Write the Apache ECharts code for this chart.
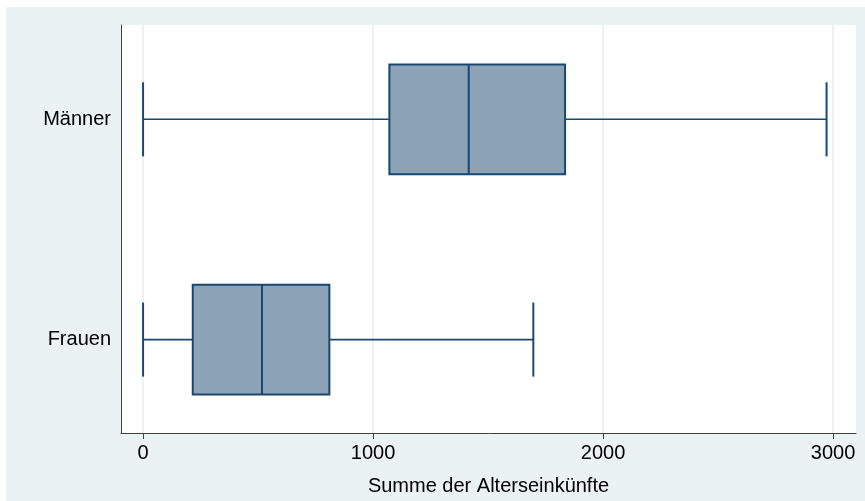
<!DOCTYPE html>
<html>
<head>
<meta charset="utf-8">
<script src="https://cdn.jsdelivr.net/npm/echarts@6/dist/echarts.min.js"></script>
<style>
  html, body { margin: 0; padding: 0; background: #ffffff; }
  #container { position: absolute; left: 6px; top: 7px; width: 859px; height: 494px; }
</style>
</head>
<body>
<div id="container"></div>
<script>
// box plot values per group (Stata-style horizontal boxplot)
var groups = ['Männer', 'Frauen'];
var lowerWhisker = [0, 0];
var q1 = [1071, 216];
var median = [1416, 517];
var q3 = [1835, 810];
var upperWhisker = [2972, 1697];
var xTicks = [0, 1000, 2000, 3000];
var xTitle = 'Summe der Alterseinkünfte';

var dom = document.getElementById('container');
var myChart = echarts.init(dom, null, { renderer: 'canvas' });

var navy = '#1a476f';
var boxFill = '#8ca3b7';
var BOX_HALF = 0.249;  // half box height in y units
var CAP_HALF = 0.168;  // half cap height in y units

var seriesData = groups.map(function (g, i) {
    return [i + 1, lowerWhisker[i], q1[i], median[i], q3[i], upperWhisker[i]];
});

function renderBox(params, api) {
    var y = api.value(0);
    var lo = api.coord([api.value(1), y]);
    var b1 = api.coord([api.value(2), y]);
    var md = api.coord([api.value(3), y]);
    var b3 = api.coord([api.value(4), y]);
    var hi = api.coord([api.value(5), y]);
    var boxTop = api.coord([0, y - BOX_HALF])[1];
    var boxBot = api.coord([0, y + BOX_HALF])[1];
    var capTop = api.coord([0, y - CAP_HALF])[1];
    var capBot = api.coord([0, y + CAP_HALF])[1];
    var cy = lo[1];
    var line = { stroke: navy, lineWidth: 1.6 };
    var thick = { stroke: navy, lineWidth: 2 };
    return {
        type: 'group',
        children: [
            { type: 'line', shape: { x1: lo[0], y1: cy, x2: b1[0], y2: cy }, style: line },
            { type: 'line', shape: { x1: b3[0], y1: cy, x2: hi[0], y2: cy }, style: line },
            { type: 'line', shape: { x1: lo[0], y1: capTop, x2: lo[0], y2: capBot }, style: thick },
            { type: 'line', shape: { x1: hi[0], y1: capTop, x2: hi[0], y2: capBot }, style: thick },
            {
                type: 'rect',
                shape: { x: b1[0], y: boxTop, width: b3[0] - b1[0], height: boxBot - boxTop },
                style: { fill: boxFill, stroke: navy, lineWidth: 2 }
            },
            { type: 'line', shape: { x1: md[0], y1: boxTop, x2: md[0], y2: boxBot }, style: thick }
        ]
    };
}

var labelFont = 'Liberation Sans, Arial, sans-serif';

var option = {
    backgroundColor: '#eaf2f3',
    animation: false,
    grid: {
        left: 115,
        right: 9,
        top: 18,
        bottom: 63,
        show: true,
        backgroundColor: '#ffffff',
        borderWidth: 0
    },
    xAxis: {
        type: 'value',
        min: -96,
        max: 3100,
        name: xTitle,
        nameLocation: 'middle',
        nameGap: 43,
        nameTextStyle: { fontFamily: labelFont, fontSize: 20, color: '#000' },
        axisLine: { show: true, onZero: false, lineStyle: { color: '#404040', width: 1 } },
        axisTick: { show: true, length: 6, customValues: xTicks, lineStyle: { color: '#404040' } },
        axisLabel: {
            customValues: xTicks,
            margin: 10,
            fontFamily: labelFont,
            fontSize: 20,
            color: '#000',
            formatter: function (v) { return String(v); }
        },
        splitLine: { show: true, lineStyle: { color: '#eaf2f3', width: 2 } }
    },
    yAxis: {
        type: 'value',
        inverse: true,
        min: 0.572,
        max: 2.424,
        axisLine: { show: true, onZero: false, lineStyle: { color: '#404040', width: 1 } },
        axisTick: { show: false },
        splitLine: { show: false },
        axisLabel: {
            customValues: [1, 2],
            margin: 10,
            fontFamily: labelFont,
            fontSize: 20,
            color: '#000',
            formatter: function (v) { return groups[Math.round(v) - 1] || ''; }
        }
    },
    series: [{
        type: 'custom',
        renderItem: renderBox,
        encode: { x: [1, 2, 3, 4, 5], y: 0 },
        data: seriesData
    }]
};

myChart.setOption(option);
window.addEventListener('resize', myChart.resize);
</script>
</body>
</html>
